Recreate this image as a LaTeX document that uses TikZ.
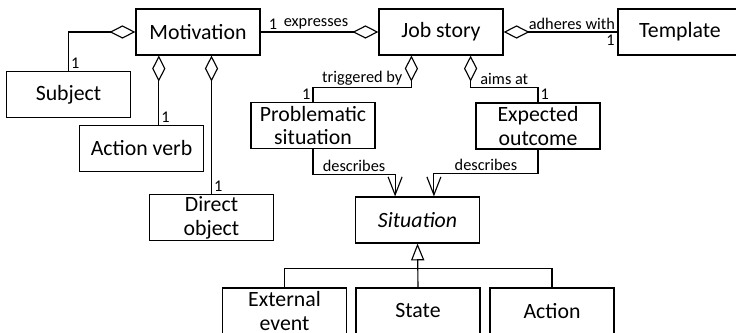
\documentclass[tikz,border=0pt]{standalone}
\usepackage{fontspec}
\setmainfont{Carlito}
\usetikzlibrary{arrows.meta}

\tikzset{
  cls/.style={draw, line width=0.8pt, minimum width=3.1cm, minimum height=1.15cm,
    inner sep=0pt, align=center, font=\fontsize{15.5}{17}\selectfont},
  lbl/.style={font=\fontsize{11.6}{13}\selectfont, inner sep=1.5pt},
  aggr/.style={line width=0.8pt, {Diamond[open,length=0.65cm,width=0.33cm]}-},
  desc/.style={line width=0.8pt, -{Straight Barb[length=0.45cm,width=0.35cm]}},
  gen/.style={line width=0.8pt, -{Triangle[open,length=0.42cm,width=0.33cm]}},
}

\begin{document}
\begin{tikzpicture}[x=0.025cm, y=-0.025cm]
\clip (0,0) rectangle (736,333);
% upper classes:
\node[cls] (motiv) at (198,32) {Motivation};
\node[cls] (job) at (441,32) {Job story};
\node[cls] (tmpl) at (680,32) {Template};
% parts of the motivation:
\node[cls] (subj) at (68.5,94.5) {Subject};
\node[cls] (verb) at (141.5,148.5) {Action verb};
\node[cls] (dobj) at (211.5,217.5) {Direct\\object};
% parts of the job story:
\node[cls] (prob) at (313,125.5) {Problematic\\situation};
\node[cls] (expo) at (538,126) {Expected\\outcome};
% situations:
\node[cls, font=\fontsize{15.5}{17}\selectfont\itshape] (sit) at (417.5,220) {Situation};
\node[cls] (ext) at (284.5,311) {External\\event};
\node[cls] (state) at (418,311) {State};
\node[cls] (act) at (552,311) {Action};

% aggregations:
\draw[aggr] (motiv.west) -| (subj.north) node[lbl, pos=1, above right] {1};
\draw[aggr] ([xshift=-0.98cm]motiv.south) coordinate (v) -- (v |- verb.north)
  node[lbl, pos=1, above right] {1};
\draw[aggr] (motiv.south -| dobj.north) -- (dobj.north) node[lbl, pos=1, above right] {1};
\draw[aggr] (job.west) -- (motiv.east) node[lbl, pos=1, above right, xshift=4pt] {1}
  node[lbl, pos=0.53, above] {expresses};
\draw[aggr] (job.east) -- (tmpl.west) node[lbl, pos=0.6, above] {adheres with}
  node[lbl, pos=1, below left] {1};
\draw[aggr] ([xshift=-0.74cm]job.south) -- ++(0,32) -| (prob.north)
  node[lbl, pos=0.25, above] {triggered by} node[lbl, pos=1, above left] {1};
\draw[aggr] ([xshift=0.74cm]job.south) -- ++(0,32) -| (expo.north)
  node[lbl, pos=0.25, above] {aims at} node[lbl, pos=1, above right] {1};

% associations:
\draw[desc] (prob.south) -- ++(0,25) -| ([xshift=-0.56cm]sit.north)
  node[lbl, pos=0.25, above] {describes};
\draw[desc] (expo.south) -- ++(0,24) -| ([xshift=0.41cm]sit.north)
  node[lbl, pos=0.25, above] {describes};

% generalization:
\draw[gen] (state.north) -- (sit.south);
\draw[line width=0.8pt] (ext.north) |- ([yshift=-0.625cm]sit.south) -| (act.north);
\end{tikzpicture}
\end{document}
